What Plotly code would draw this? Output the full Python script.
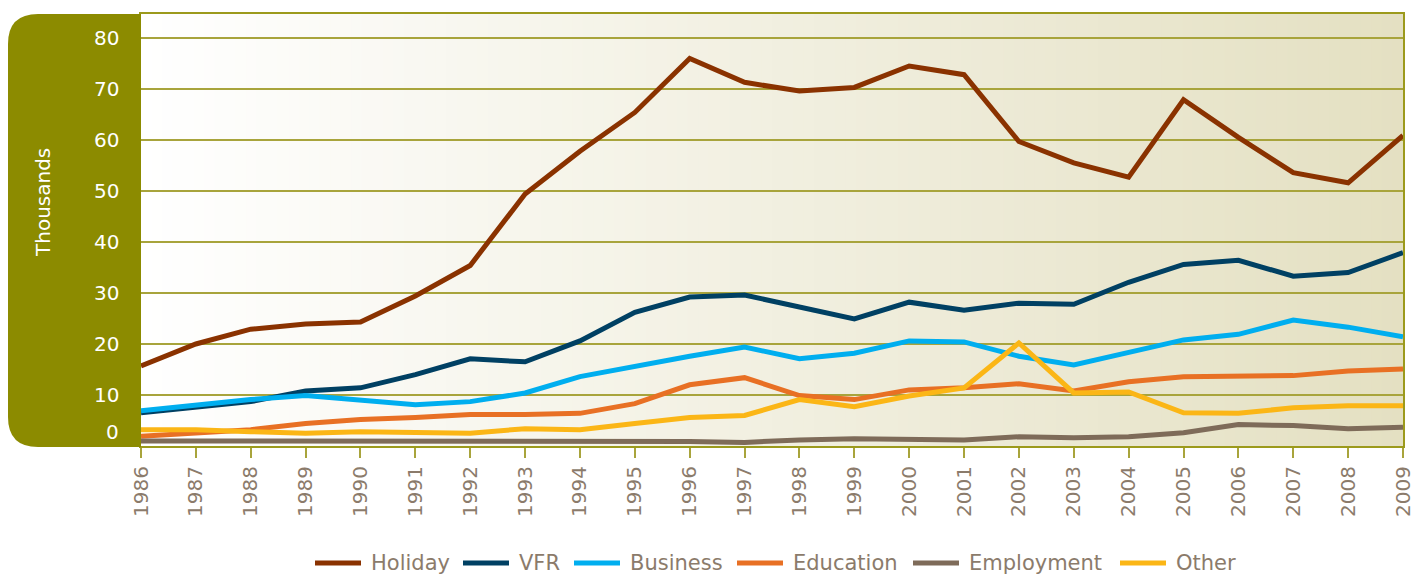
import plotly.graph_objects as go

years = list(range(1986, 2010))
holiday = [15.7, 20.0, 22.9, 23.9, 24.3, 29.4, 35.4, 49.4, 57.8, 65.4, 76.0, 71.3, 69.6, 70.3, 74.5, 72.8,
           59.7, 55.5, 52.7, 67.9, 60.5, 53.6, 51.6, 60.9]
vfr = [6.5, 7.5, 8.7, 10.8, 11.4, 14.0, 17.1, 16.5, 20.6, 26.2, 29.2, 29.6, 27.2, 24.9, 28.2, 26.6,
       28.0, 27.8, 32.1, 35.6, 36.4, 33.3, 34.0, 37.9]
business = [6.9, 8.1, 9.1, 9.9, 8.9, 8.1, 8.7, 10.4, 13.6, 15.7, 17.6, 19.4, 17.1, 18.2, 20.6, 20.4,
            17.6, 15.9, 18.4, 20.8, 21.9, 24.7, 23.3, 21.4]
education = [1.9, 2.5, 3.2, 4.4, 5.2, 5.6, 6.2, 6.2, 6.4, 8.3, 12.0, 13.4, 9.9, 9.1, 11.0, 11.4,
             12.2, 10.8, 12.6, 13.6, 13.8, 13.8, 14.7, 15.1]
employment = [1.0, 1.0, 1.0, 1.0, 1.0, 1.0, 1.0, 0.9, 0.9, 0.9, 0.9, 0.7, 1.2, 1.4, 1.2, 1.2,
              1.8, 1.6, 1.8, 2.6, 4.2, 4.0, 3.4, 3.7]
other = [3.2, 3.2, 2.8, 2.5, 2.8, 2.7, 2.5, 3.4, 3.2, 4.4, 5.6, 6.0, 9.1, 7.7, 9.8, 11.4,
         20.2, 10.4, 10.6, 6.5, 6.4, 7.5, 7.9, 7.9]

series_names = ["Holiday", "VFR", "Business", "Education", "Employment", "Other"]
series_values = [holiday, vfr, business, education, employment, other]
series_colors = ["#8a3200", "#004063", "#00aeef", "#e87024", "#7e6b59", "#fbb616"]

y_tickvals = [10, 20, 30, 40, 50, 60, 70, 80]

W, H = 1414, 576
L, R, T, B = 141, 11, 14, 130
PW, PH = W - L - R, H - T - B


# helpers converting window pixel positions to paper coordinates
def px(x):
    return (x - L) / PW


def py(y):
    return (H - B - y) / PH


TEXT = "#8b7b6b"
FONT = "DejaVu Sans"

fig = go.Figure()
for name, vals, col in zip(series_names, series_values, series_colors):
    fig.add_trace(go.Scatter(x=years, y=vals, name=name, mode="lines", showlegend=False,
                             line=dict(color=col, width=5)))

shapes = []
# gradient background
n = 120
c0 = (255, 255, 255)
c1 = (228, 224, 194)
for i in range(n):
    t = (i + 0.5) / n
    c = tuple(round(a + (b - a) * t) for a, b in zip(c0, c1))
    shapes.append(dict(type="rect", xref="paper", yref="paper", x0=i / n, x1=min((i + 1) / n + 0.001, 1),
                       y0=0, y1=1, fillcolor="rgb(%d,%d,%d)" % c, line=dict(width=0), layer="below"))

# olive panel with rounded left corners
r = 30
x_l, x_r, y_t, y_b = 8, 141, 14, 447
path = ("M {a},{b} L {c},{b} Q {d},{b} {d},{e} L {d},{f} Q {d},{g} {c},{g} L {a},{g} Z").format(
    a=px(x_r), b=py(y_t), c=px(x_l + r), d=px(x_l), e=py(y_t + r), f=py(y_b - r), g=py(y_b))
shapes.append(dict(type="path", xref="paper", yref="paper", path=path,
                   fillcolor="#8c8b00", line=dict(width=0), layer="above"))

annotations = [
    dict(text="Thousands", x=px(43), y=py(203), xref="paper", yref="paper", textangle=-90,
         xanchor="center", yanchor="middle",
         showarrow=False, font=dict(family=FONT, size=20, color="white")),
    dict(text="0", x=px(121), y=py(432), xref="paper", yref="paper", xanchor="right", yanchor="middle",
         showarrow=False, font=dict(family=FONT, size=20, color="white")),
]
for v in y_tickvals:
    annotations.append(dict(text=str(v), x=px(121), y=v, xref="paper", yref="y", xanchor="right",
                            yanchor="middle", showarrow=False,
                            font=dict(family=FONT, size=20, color="white")))

# custom legend (line swatches + labels)
legend_line_x = [315, 463, 574, 737, 913, 1120]
legend_y = 563
for name, col, lx in zip(series_names, series_colors, legend_line_x):
    shapes.append(dict(type="line", xref="paper", yref="paper", x0=px(lx), x1=px(lx + 46),
                       y0=py(legend_y), y1=py(legend_y), line=dict(color=col, width=5), layer="above"))
    annotations.append(dict(text=name, x=px(lx + 54), y=py(legend_y), xref="paper", yref="paper",
                            xanchor="left", yanchor="middle", showarrow=False,
                            font=dict(family=FONT, size=21, color=TEXT)))

fig.update_layout(
    width=W, height=H,
    margin=dict(l=L, r=R, t=T, b=B, autoexpand=False),
    paper_bgcolor="white", plot_bgcolor="white",
    shapes=shapes, annotations=annotations,
    font=dict(family=FONT, color=TEXT),
    showlegend=False,
    hovermode=False,
    xaxis=dict(range=[1986, 2009], tickmode="array", tickvals=years, ticktext=[str(y) for y in years],
               tickangle=-90, ticks="outside", ticklen=10, tickwidth=2, tickcolor="#a8a43c",
               showgrid=False, showline=True, linecolor="#9c9a1c", linewidth=2, mirror=True,
               tickfont=dict(size=20, color=TEXT), zeroline=False, automargin=False,
               ticklabeloverflow="allow"),
    yaxis=dict(range=[0, 84.7], tickmode="array", tickvals=y_tickvals, showticklabels=False,
               showgrid=True, gridcolor="#a8a43c", gridwidth=2, showline=True, linecolor="#9c9a1c",
               linewidth=2, mirror=True, zeroline=False, ticks="", automargin=False),
)

fig.write_html("out.html", config={"displayModeBar": False},
               post_script="document.body.style.margin='0';document.body.style.overflow='hidden';")
